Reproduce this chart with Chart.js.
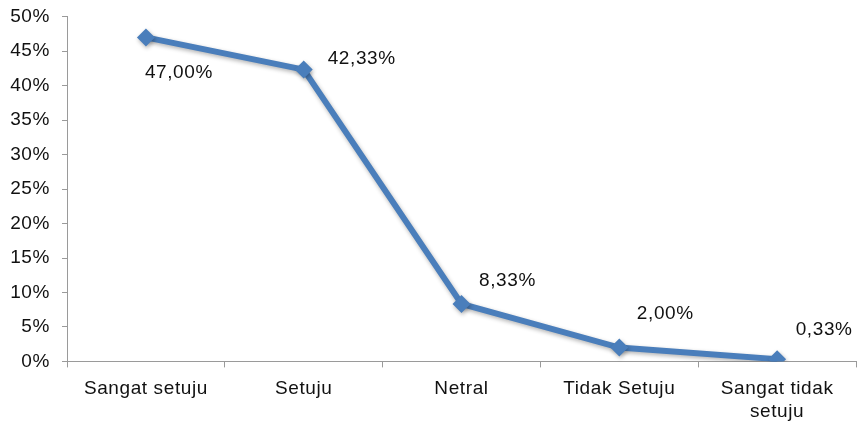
<!DOCTYPE html>
<html>
<head>
<meta charset="utf-8">
<script src="https://cdn.jsdelivr.net/npm/chart.js@4.4.0/dist/chart.umd.min.js"></script>
<style>
  html, body { margin: 0; padding: 0; background: #fff; }
  #wrap { width: 865px; height: 425px; position: relative; }
</style>
</head>
<body>
<div id="wrap"><canvas id="chart" width="865" height="425"></canvas></div>
<script>
(function() {
    'use strict';

    const categories = ['Sangat setuju', 'Setuju', 'Netral', 'Tidak Setuju', ['Sangat tidak', 'setuju']];
    const values = [47.00, 42.33, 8.33, 2.00, 0.33];
    const yTicks = [0, 5, 10, 15, 20, 25, 30, 35, 40, 45, 50];

    const FONT = 'Liberation Sans, Arial, Helvetica, sans-serif';
    const BLUE = '#4a7ebb';

    // label placement relative to each point (dx, dy)
    const labelOffsets = [[33, 35], [58, -11], [46, -23], [46, -34], [47, -29]];

    // reference text is a bit wider than plain Arial
    const spacing = {
        id: 'spacing',
        beforeInit: function(chart) { chart.ctx.letterSpacing = '0.6px'; },
        beforeDraw: function(chart) { chart.ctx.letterSpacing = '0.6px'; }
    };

    const pointLabels = {
        id: 'pointLabels',
        afterDatasetsDraw: function(chart) {
            const ctx = chart.ctx;
            const meta = chart.getDatasetMeta(0);
            ctx.save();
            ctx.font = '19px ' + FONT;
            ctx.fillStyle = '#111';
            ctx.textAlign = 'center';
            ctx.textBaseline = 'middle';
            meta.data.forEach(function(pt, i) {
                const txt = values[i].toFixed(2).replace('.', ',') + '%';
                const off = labelOffsets[i];
                ctx.fillText(txt, pt.x + off[0], pt.y + off[1]);
            });
            ctx.restore();
        }
    };

    const shadow = {
        id: 'shadow',
        beforeDatasetsDraw: function(chart) {
            const ctx = chart.ctx;
            ctx.save();
            ctx.shadowColor = 'rgba(0,0,0,0.3)';
            ctx.shadowBlur = 4;
            ctx.shadowOffsetX = 1;
            ctx.shadowOffsetY = 2;
        },
        afterDatasetsDraw: function(chart) {
            chart.ctx.restore();
        }
    };

    new Chart(document.getElementById('chart'), {
        type: 'line',
        data: {
            labels: categories,
            datasets: [{
                data: values,
                borderColor: BLUE,
                backgroundColor: BLUE,
                borderWidth: 6,
                pointStyle: 'rectRot',
                pointRadius: 9,
                pointBorderWidth: 0,
                pointBackgroundColor: BLUE,
                tension: 0,
                fill: false
            }]
        },
        options: {
            responsive: false,
            animation: false,
            layout: { padding: { left: 0, right: 5, top: 16, bottom: -8 } },
            plugins: { legend: { display: false }, tooltip: { enabled: false } },
            scales: {
                x: {
                    offset: true,
                    grid: { display: true, offset: true, drawOnChartArea: false, drawTicks: true, tickLength: 6, color: '#9a9a9a' },
                    border: { display: true, color: '#9a9a9a', width: 1 },
                    ticks: { color: '#111', font: { family: FONT, size: 19, lineHeight: 1.2 }, padding: 10, maxRotation: 0, autoSkip: false }
                },
                y: {
                    min: 0,
                    max: 50,
                    afterBuildTicks: function(axis) { axis.ticks = yTicks.map(function(v) { return { value: v }; }); },
                    grid: { display: true, drawOnChartArea: false, drawTicks: true, tickLength: 5, color: '#9a9a9a' },
                    border: { display: true, color: '#9a9a9a', width: 1 },
                    ticks: {
                        color: '#111',
                        font: { family: FONT, size: 19, lineHeight: 0.5 },
                        padding: 12,
                        callback: function(v) { return v + '%'; }
                    }
                }
            }
        },
        plugins: [spacing, shadow, pointLabels]
    });
})();
</script>
</body>
</html>
